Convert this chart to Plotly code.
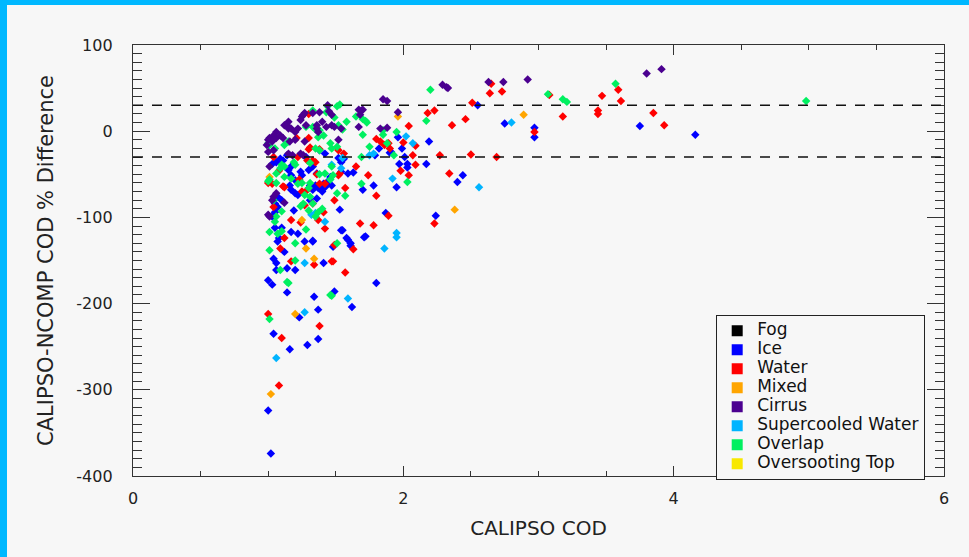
import plotly.graph_objects as go

# ---------------- data (CALIPSO COD, % difference) ----------------
categories = ["Fog", "Ice", "Water", "Mixed", "Cirrus", "Supercooled Water", "Overlap", "Oversooting Top"]
colors = ["#000000", "#0000ff", "#ff0000", "#ffa500", "#4b0090", "#00b4ff", "#00f060", "#f8e800"]

fog = []
oversooting = []

ice = [
    (2.55, 30), (2.75, 9), (2.97, 4), (2.97, -7), (3.75, 6), (4.16, -4), (2.17, -38), (2.19, -12),
    (2.44, -51), (2.40, -59), (2.24, -98), (1.96, -7), (1.97, -38), (2.03, -38), (2.03, -42),
    (1.95, -65), (1.90, -25), (1.87, -95), (1.99, -20), (2.01, -30),
    (1.70, -68), (1.53, -91), (1.55, -115), (1.71, -123), (1.59, -126), (1.61, -130), (1.61, -133),
    (1.48, -134), (1.80, -176), (1.49, -186), (1.62, -204),
    (1.00, -173), (1.03, -178), (1.14, -187), (1.34, -192), (1.23, -216), (1.37, -207), (1.37, -241),
    (1.29, -248), (1.16, -253), (1.04, -235), (1.00, -324), (1.02, -374),
    (1.06, -161), (1.14, -159), (1.20, -161), (1.04, -148), (1.06, -153), (1.41, -153), (1.12, -140),
    (1.27, -128), (1.33, -128),
    (1.05, -112), (1.07, -128), (1.08, -124), (1.10, -112), (1.17, -117), (1.22, -119), (1.33, -127),
    (1.54, -115), (1.58, -124), (1.72, -122),
    (1.16, -63), (1.17, -68), (1.20, -72), (1.22, -74), (1.35, -63), (1.37, -66), (1.40, -70),
    (1.42, -65), (1.44, -61), (1.47, -63),
    (1.07, -76), (1.10, -80), (1.05, -84), (1.07, -88), (1.05, -94), (1.03, -99), (1.19, -92),
    (1.31, -80), (1.36, -78),
    (1.03, -38), (1.06, -36), (1.24, -47), (1.25, -51), (1.17, -41), (1.33, -41), (1.36, -49),
    (1.31, -63), (1.33, -68), (1.38, -65), (1.41, -61), (1.45, -57), (1.46, -53),
    (1.82, -20), (1.91, -24), (1.79, -28), (1.56, -32), (1.54, -36), (1.59, -49), (1.63, -48),
    (1.54, -47), (1.78, -63), (1.52, -31), (1.42, -26), (1.28, -30), (1.14, -28), (1.15, -45),
    (1.30, -45), (1.09, -32), (1.11, -34), (1.38, -22), (1.17, -51), (1.20, -57),
]

water = [
    (2.23, 24), (2.18, 21), (2.04, 6), (2.36, 7), (2.46, 14), (2.51, 33), (2.65, 55), (2.64, 44),
    (2.73, 46), (2.97, -1), (3.08, 42), (3.18, 17), (3.44, 24), (3.44, 20), (3.47, 41), (3.59, 48),
    (3.61, 35), (3.85, 21), (3.93, 7),
    (2.27, -28), (2.50, -27), (2.69, -30), (2.09, -39), (2.34, -49), (2.23, -107), (1.98, -46),
    (2.07, -28), (2.00, -13), (2.09, -17), (1.83, -12), (1.89, -98),
    (1.80, -75), (1.49, -80), (1.68, -107), (1.78, -109), (1.49, -132), (1.63, -137), (1.48, -151),
    (1.57, -164), (1.00, -212), (1.38, -226), (1.10, -240), (1.08, -295),
    (1.30, 20), (1.30, -21), (1.31, -19), (1.38, -21), (1.03, -61), (1.11, -64), (1.12, -65),
    (1.38, -61), (1.42, -61), (1.41, -94), (1.17, -103), (1.24, -106), (1.42, -113), (1.12, -124),
    (1.09, -136), (1.34, -155), (1.47, -151), (1.17, -151),
    (1.80, -9), (1.86, -16), (1.89, -14), (1.90, -20), (1.65, -41), (1.52, -51), (1.74, -51),
    (2.04, -51), (1.57, -66), (1.53, -49), (1.52, -22), (1.56, -26), (1.04, -88), (1.27, -86),
    (1.33, -84), (1.25, -70), (1.29, -68), (1.37, -103), (1.08, -46), (1.22, -30), (1.29, -34),
    (1.36, -50), (1.23, -56), (1.30, -8), (1.21, -8), (1.00, -60), (1.04, -30), (1.33, -34),
    (1.35, -36),
]

mixed = [
    (1.96, 17), (2.89, 19), (2.38, -91), (1.20, -212), (1.02, -305), (1.25, -103), (1.28, -136),
    (1.34, -148), (1.01, -53),
]

supercooled = [
    (2.80, 10), (2.56, -65), (1.92, -55), (2.02, -6), (2.07, -14), (1.95, -118), (1.95, -123),
    (1.86, -136), (1.59, -194), (1.27, -210), (1.06, -263), (1.35, -95), (1.42, -105), (1.27, -153),
    (1.78, -26), (1.75, -28), (1.55, -31), (1.32, -97), (1.54, -43), (1.47, -39),
]

overlap = [
    (2.20, 48), (2.17, 12), (3.07, 43), (3.18, 37), (3.21, 34), (3.57, 55), (4.98, 35), (2.03, -59),
    (1.93, -28), (1.88, -14), (1.95, -1), (1.85, 1), (1.85, -4), (1.51, -72), (1.57, -75),
    (1.51, -130), (1.47, -191), (1.15, -176), (1.46, -190), (1.09, -161), (1.01, -218), (1.14, -175),
    (1.65, 17), (1.70, 14), (1.72, 12), (1.73, 10), (1.58, 11), (1.70, -4), (1.51, 29), (1.53, 31),
    (1.44, 29), (1.49, 16), (1.55, 2), (1.51, -18), (1.52, 7),
    (1.33, 24), (1.43, 22), (1.28, 5), (1.33, 5), (1.35, 2), (1.38, 1), (1.37, -7), (1.41, -5),
    (1.01, -16), (1.05, -20), (1.12, -16), (1.15, -12), (1.46, -14), (1.47, -20), (1.35, -20),
    (1.38, -22), (1.00, -14),
    (1.19, -36), (1.20, -39), (1.31, -37), (1.10, -39), (1.09, -43), (1.12, -41),
    (1.06, -49), (1.12, -53), (1.17, -55), (1.25, -60), (1.31, -60), (1.38, -50), (1.42, -49),
    (1.46, -56), (1.01, -56), (1.00, -58),
    (1.06, -60), (1.22, -61), (1.30, -66), (1.31, -76), (1.27, -74),
    (1.04, -80), (1.10, -93), (1.06, -99), (1.05, -105), (1.24, -87), (1.26, -84), (1.33, -84),
    (1.37, -94), (1.40, -90), (1.35, -99), (1.30, -92),
    (1.01, -117), (1.07, -119), (1.10, -116), (1.28, -114), (1.20, -130), (1.01, -138), (1.20, -150),
    (1.69, -61), (1.69, -30), (1.75, -18), (1.48, -51), (1.47, -41),
]

cirrus = [
    (1.85, 37), (1.88, 35), (1.96, 22), (2.29, 54), (2.32, 51), (2.33, 50), (2.63, 57), (2.74, 57),
    (2.92, 60), (3.80, 67), (3.91, 72),
    (1.69, 24), (1.68, 19), (1.67, 25), (1.70, 25), (1.67, 5), (1.83, 3), (1.88, 4),
    (1.47, 19), (1.49, 5), (1.54, 3), (1.52, -10), (1.44, 30), (1.38, 22), (1.45, 23), (1.43, 5),
    (1.47, 7), (1.40, 11), (1.36, 7),
    (1.33, 21), (1.25, 17), (1.26, 19), (1.27, 21), (1.24, 13), (1.28, 7),
    (1.15, 11), (1.14, 7), (1.12, 7), (1.15, 3), (1.17, 3), (1.20, -1), (1.22, 3),
    (1.06, -1), (1.04, -5), (1.01, -8), (1.00, -10), (0.99, -16), (1.03, -12), (1.06, -8),
    (1.09, -5), (1.11, -8), (1.16, -12), (1.20, -10), (1.27, -12), (1.36, 3), (1.37, -1),
    (1.00, -24), (1.04, -22), (1.15, -26), (1.18, -28), (1.24, -26), (1.26, -28),
    (1.01, -41), (1.06, -72), (1.12, -83), (1.04, -76), (1.03, -80), (1.00, -97), (1.01, -99),
]

series = {
    "Fog": fog, "Ice": ice, "Water": water, "Mixed": mixed, "Cirrus": cirrus,
    "Supercooled Water": supercooled, "Overlap": overlap, "Oversooting Top": oversooting,
}
draw_order = ["Fog", "Ice", "Water", "Mixed", "Supercooled Water", "Overlap", "Cirrus", "Oversooting Top"]

limit_lines = [30, -30]
x_tick_vals = [0, 2, 4, 6]
x_tick_text = ["0", "2", "4", "6"]
y_tick_vals = [-400, -300, -200, -100, 0, 100]
y_tick_text = ["-400", "-300", "-200", "-100", "0", "100"]

# ---------------- figure ----------------
BG = "#f7f7f7"
AX = "#333333"
FONT = "DejaVu Sans"
TXT = "#222222"
color_of = dict(zip(categories, colors))

fig = go.Figure()
for cat in draw_order:
    pts = series[cat]
    if not pts:
        continue
    fig.add_trace(go.Scatter(
        x=[p[0] for p in pts], y=[p[1] for p in pts], mode="markers", name=cat,
        legendgroup=cat, showlegend=False,
        marker=dict(symbol="diamond", size=6.5, color=color_of[cat], line=dict(width=0)),
    ))

for cat in categories:
    fig.add_trace(go.Scatter(
        x=[None], y=[None], mode="markers", legendgroup=cat,
        name=f'<span style="font-size:17px">{cat}</span>',
        marker=dict(symbol="square", size=11, color=color_of[cat], line=dict(width=0)),
    ))

for v in limit_lines:
    fig.add_hline(y=v, line=dict(color="#111111", width=1.5, dash="10px,9px"))

W, H = 969, 557
ml, mr, mt, mb = 133, 25, 45, 81
pw, ph = W - ml - mr, H - mt - mb
def px_x(p):
    return (p - ml) / pw
def px_y(p):
    return (H - mb - p) / ph

band = "#00b8ff"
fig.add_shape(type="rect", xref="paper", yref="paper", x0=px_x(-4), x1=px_x(7), y0=px_y(H + 4), y1=px_y(-4),
              fillcolor=band, line=dict(width=0), layer="above")
fig.add_shape(type="rect", xref="paper", yref="paper", x0=px_x(-4), x1=px_x(W + 4), y0=px_y(5), y1=px_y(-4),
              fillcolor=band, line=dict(width=0), layer="above")

fig.update_layout(
    width=W, height=H,
    margin=dict(l=ml, r=mr, t=mt, b=mb, autoexpand=False),
    paper_bgcolor=BG, plot_bgcolor=BG,
    font=dict(family=FONT, size=15, color=TXT),
    showlegend=True,
    legend=dict(
        x=px_x(716), y=px_y(315), xanchor="left", yanchor="top",
        bgcolor=BG, bordercolor="#222222", borderwidth=1.2,
        font=dict(family=FONT, size=12, color="#111111"),
        itemsizing="trace", itemwidth=30, tracegroupgap=0,
    ),
    xaxis=dict(
        range=[0, 6], tickvals=x_tick_vals, ticktext=x_tick_text,
        showgrid=False, zeroline=False, showline=True, linecolor=AX, linewidth=1.3, mirror="ticks",
        ticks="inside", ticklen=10, tickwidth=1.3, tickcolor=AX,
        minor=dict(dtick=0.5, ticks="inside", ticklen=5, tickwidth=1.3, tickcolor=AX, showgrid=False),
        tickfont=dict(family=FONT, size=16, color=TXT), ticklabelstandoff=8,
        title=dict(text="CALIPSO COD", font=dict(family=FONT, size=20, color=TXT), standoff=13),
    ),
    yaxis=dict(
        range=[-400, 100], tickvals=y_tick_vals, ticktext=y_tick_text,
        showgrid=False, zeroline=False, showline=True, linecolor=AX, linewidth=1.3, mirror="ticks",
        ticks="inside", ticklen=17, tickwidth=1.3, tickcolor=AX,
        minor=dict(dtick=10, ticks="inside", ticklen=9, tickwidth=1.3, tickcolor=AX, showgrid=False),
        tickfont=dict(family=FONT, size=16, color=TXT), ticklabelstandoff=16,
        title=dict(text="CALIPSO-NCOMP COD % Difference", font=dict(family=FONT, size=21, color=TXT), standoff=16),
    ),
)

fig.write_html(
    "out.html",
    config={"displayModeBar": False},
    post_script="document.body.style.margin='0px';",
)
